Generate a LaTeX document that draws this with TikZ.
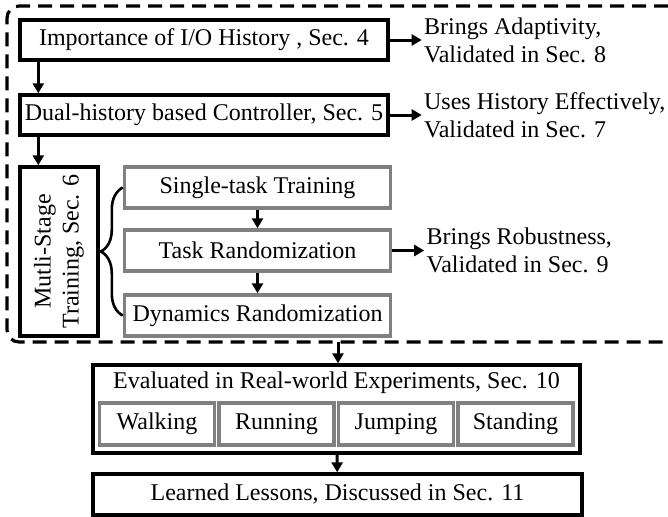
\documentclass[tikz,border=0pt]{standalone}
\usepackage{fontspec}
\setmainfont{Liberation Serif}
\usetikzlibrary{arrows.meta, positioning, decorations.pathreplacing}

\tikzset{
    box/.style = {draw, line width=1.7pt, inner sep=2pt},
    gbox/.style = {draw=black!50, line width=1.7pt, inner sep=2pt},
    note/.style = {align=left, inner sep=1pt},
    arr/.style = {-{Triangle[length=5pt,width=5.5pt]}, line width=1.5pt},
    frame/.style = {line width=1.6pt, dash pattern=on 7pt off 4pt, rounded corners=6pt},
}

\begin{document}
\begin{tikzpicture} [x=0.5pt, y=-0.5pt, font=\fontsize{12}{14}\selectfont]
        \useasboundingbox (0,0) rectangle (668,516);

        % upper part, inside the dashed frame
        \node (imp) [box, minimum width=184pt, minimum height=20pt] at (204,40) {Importance of I/O History , Sec. 4};
        \node (dual) [box, minimum width=184pt, minimum height=20pt] at (204,115) {Dual-history based Controller, Sec. 5};
        \node (multi) [box, rotate=90, align=center, minimum width=84.5pt, minimum height=39pt] at (59,251.5) {Mutli-Stage\\Training, Sec. 6};
        \node (single) [gbox, minimum width=133pt, minimum height=20.5pt] at (257.5,187.5) {Single-task Training};
        \node (taskr) [gbox, minimum width=133pt, minimum height=20.5pt] at (257.5,250.5) {Task Randomization};
        \node (dynr) [gbox, minimum width=133pt, minimum height=20.5pt] at (257.5,315.5) {Dynamics Randomization};

        \node (adapt) [note, right=16pt of imp] {Brings Adaptivity,\\Validated in Sec. 8};
        \node (effect) [note, right=16pt of dual] {Uses History Effectively,\\Validated in Sec. 7};
        \node (robust) [note, right=16pt of taskr] {Brings Robustness,\\Validated in Sec. 9};

        \draw [frame] (668,6) -| (7,342) -- (668,342);
        \coordinate (outb) at (338,342);

        % lower part
        \node (eval) [box, minimum width=243.5pt, minimum height=44pt] at (336.5,409) {};
        \node (evtitle) [inner sep=0pt] at (336.5,383) {Evaluated in Real-world Experiments, Sec. 10};
        \node (walk) [gbox, minimum width=57.5pt, minimum height=21pt] at (157,424) {Walking};
        \node (run) [gbox, minimum width=57.5pt, minimum height=21pt] at (276.5,424) {Running};
        \node (jump) [gbox, minimum width=57.5pt, minimum height=21pt] at (396,424) {Jumping};
        \node (stand) [gbox, minimum width=57.5pt, minimum height=21pt] at (515.5,424) {Standing};
        \node (learn) [box, minimum width=244.5pt, minimum height=20.5pt] at (337.5,494.5) {Learned Lessons, Discussed in Sec. 11};

        \path [arr] ([xshift=10pt]imp.south west) edge ([xshift=10pt]dual.north west);
        \path [arr] ([xshift=10pt]dual.south west) edge ([xshift=10pt]dual.south west |- multi.east);
        \path [arr] (single) edge (taskr);
        \path [arr] (taskr) edge (dynr);
        \path [arr] (imp) edge (adapt);
        \path [arr] (dual) edge (effect);
        \path [arr] (taskr) edge (robust);
        \path [arr] (outb) edge (outb |- eval.north);
        \path [arr] (eval) edge (learn);
        \draw [line width=1.3pt, decorate, decoration={brace, amplitude=11pt}] (dynr.west) -- (single.west);
    \end{tikzpicture}
\end{document}
